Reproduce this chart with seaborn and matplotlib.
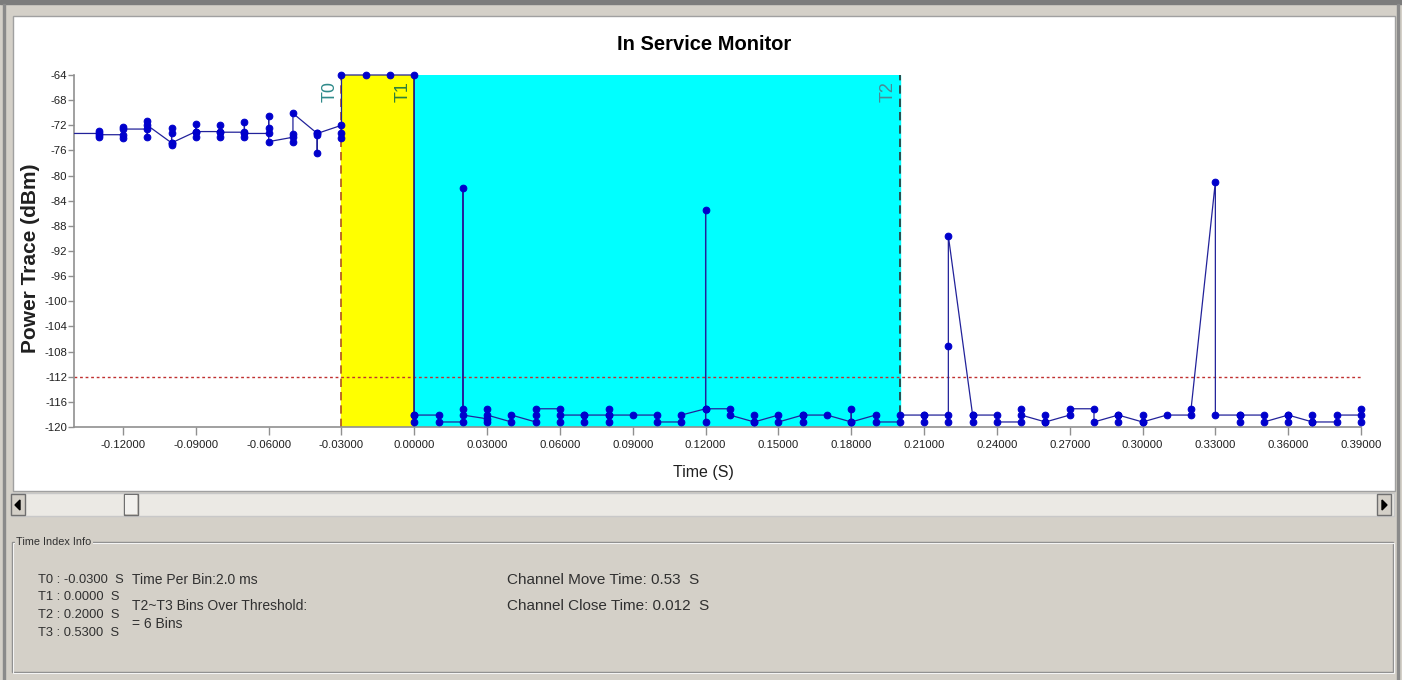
import pandas as pd
import matplotlib
matplotlib.use("Agg")
import matplotlib.pyplot as plt
from matplotlib.patches import Rectangle, Polygon
import seaborn as sns

# DATA: every 10 ms bin holds a few samples, drawn in the order they were taken
bin_times = [-0.14, -0.13, -0.12, -0.11, -0.10, -0.09, -0.08, -0.07, -0.06, -0.05, -0.04,
             -0.03, -0.02, -0.01, 0.00, 0.01, 0.02, 0.03, 0.04, 0.05, 0.06, 0.07, 0.08,
             0.09, 0.10, 0.11, 0.12, 0.13, 0.14, 0.15, 0.16, 0.17, 0.18, 0.19, 0.20,
             0.21, 0.22, 0.23, 0.24, 0.25, 0.26, 0.27, 0.28, 0.29, 0.30, 0.31, 0.32,
             0.33, 0.34, 0.35, 0.36, 0.37, 0.38, 0.39]
bin_samples = [
    [-73.3],
    [-73.3, -72.9, -73.9, -73.5],
    [-73.5, -74.0, -72.3, -72.6],
    [-72.6, -73.9, -71.3, -72.0],
    [-74.8, -72.5, -73.3, -75.1, -74.8],
    [-73.0, -71.8, -73.8, -73.0],
    [-73.0, -72.0, -73.8, -73.1],
    [-73.1, -71.4, -73.8, -73.3],
    [-73.3, -70.5, -72.5, -74.6],
    [-73.9, -74.6, -73.4, -70.1],
    [-73.3, -76.4, -73.6, -73.3],
    [-72.0, -73.2, -74.0, -64.0],
    [-64.0],
    [-64.0],
    [-64.0, -118.1, -119.2, -118.1],
    [-118.1, -119.2],
    [-119.2, -81.9, -117.1, -118.1],
    [-118.7, -117.1, -119.2, -118.1],
    [-119.2, -118.1],
    [-119.2, -118.1, -117.1],
    [-117.1, -119.2, -118.1],
    [-118.1, -119.2, -118.1],
    [-118.1, -117.1, -119.2, -118.1],
    [-118.1],
    [-118.1, -119.2],
    [-119.2, -118.1],
    [-117.1, -119.2, -85.5, -117.1],
    [-117.1, -118.1],
    [-119.2, -118.1, -119.2],
    [-118.1, -119.2],
    [-118.1, -119.2, -118.1],
    [-118.1],
    [-119.2, -117.1, -119.2],
    [-118.1, -119.2],
    [-119.2, -118.1],
    [-118.1, -119.2, -118.1],
    [-118.1, -119.2, -107.1, -89.6],
    [-118.1, -119.2, -118.1],
    [-118.1, -119.2],
    [-119.2, -117.1, -118.1],
    [-119.2, -118.1, -119.2],
    [-118.1, -117.1],
    [-117.1, -119.2],
    [-118.1, -119.2, -118.1],
    [-119.2, -118.1, -119.2],
    [-118.1],
    [-118.1, -117.1],
    [-81.0, -118.1],
    [-118.1, -119.2, -118.1],
    [-118.1, -119.2],
    [-118.1, -119.2, -118.1],
    [-119.2, -118.1, -119.2],
    [-119.2, -118.1],
    [-118.1, -117.1, -119.2],
]

marker_names = ["T0", "T1", "T2"]
marker_times = [-0.03, 0.00, 0.20]
threshold = -112
y_ticks = list(range(-64, -121, -4))
x_ticks = [-0.12, -0.09, -0.06, -0.03, 0.00, 0.03, 0.06, 0.09, 0.12, 0.15, 0.18,
           0.21, 0.24, 0.27, 0.30, 0.33, 0.36, 0.39]

info_times = ["T0 : -0.0300  S", "T1 : 0.0000  S", "T2 : 0.2000  S", "T3 : 0.5300  S"]
info_mid = ["Time Per Bin:2.0 ms", "T2~T3 Bins Over Threshold:", "= 6 Bins"]
info_right = ["Channel Move Time: 0.53  S", "Channel Close Time: 0.012  S"]

rows = []
for t, samples in zip(bin_times, bin_samples):
    for p in samples:
        rows.append((t, p))
df = pd.DataFrame(rows, columns=["time", "power"])

sns.set_style("white")
plt.rcParams["font.family"] = ["Liberation Sans", "DejaVu Sans"]

W, H = 1402, 680
fig = plt.figure(figsize=(W / 100, H / 100), dpi=100, facecolor="#d4d0c8")

# window chrome drawn in pixel coordinates
bg = fig.add_axes([0, 0, 1, 1], zorder=0)
bg.set_xlim(0, W)
bg.set_ylim(H, 0)
bg.axis("off")
bg.add_patch(Rectangle((0, 0), W, 4, color="#7c7c7c"))
bg.add_patch(Rectangle((3, 4), 1.5, H, color="#8a8a8a"))
bg.add_patch(Rectangle((1397, 4), 1.5, H, color="#8a8a8a"))
bg.add_patch(Rectangle((13, 16), 1382, 475, facecolor="white", edgecolor="#a0a0a0", lw=1))
# scrollbar
bg.add_patch(Rectangle((11, 493), 1383, 23, facecolor="#ebe9e4", edgecolor="#c8c8c8", lw=1))
for bx in [11, 124, 1377]:
    bg.add_patch(Rectangle((bx, 494), 14, 21, facecolor="#d4d0c8", edgecolor="#6f6f6f", lw=1))
bg.add_patch(Rectangle((125, 495), 12, 19, facecolor="#f2f1ee", edgecolor="none"))
bg.add_patch(Polygon([(20, 500), (20, 510), (15, 505)], color="black"))
bg.add_patch(Polygon([(1382, 500), (1382, 510), (1387, 505)], color="black"))
# group box
bg.add_patch(Rectangle((12, 542), 1381, 130, facecolor="none", edgecolor="#8c8c8c", lw=1))
bg.add_patch(Rectangle((13, 543), 1381, 130, facecolor="none", edgecolor="#f4f4f4", lw=0.8))
bg.text(16, 542, "Time Index Info", fontsize=7.8, va="center", ha="left",
        color="#303030", bbox=dict(facecolor="#d4d0c8", edgecolor="none", pad=1))
for i, s in enumerate(info_times):
    bg.text(38, 580 + i * 17.5, s, fontsize=9.3, va="center", color="#303030")
for s, y in zip(info_mid, [580, 606, 624]):
    bg.text(132, y, s, fontsize=10, va="center", color="#303030")
for s, y in zip(info_right, [580, 606]):
    bg.text(507, y, s, fontsize=11, va="center", color="#303030")

bg.text(704, 44, "In Service Monitor", fontsize=14.5, fontweight="bold",
        ha="center", va="center", color="black")

# PLOT AREA
ax = fig.add_axes([74 / W, 1 - 427 / H, 1287 / W, 352 / H], zorder=1)
ax.set_facecolor("white")
ax.set_xlim(-0.1402, 0.39)
ax.set_ylim(-120, -64)

ax.axvspan(marker_times[0], marker_times[1], color="#ffff00", zorder=0)
ax.axvspan(marker_times[1], marker_times[2], color="#00ffff", zorder=0)
ax.axhline(threshold, color="#c03030", lw=1, ls=(0, (2, 2)), zorder=1)
ax.axvline(marker_times[0], color="#b05020", lw=1.2, ls=(0, (5, 3)), zorder=1)
ax.axvline(marker_times[1], color="#404020", lw=1.2, zorder=1)
ax.axvline(marker_times[2], color="#303030", lw=1.2, ls=(0, (5, 3)), zorder=1)

label_colors = ["#2f8a8a", "#2f7f3a", "#4a8a96"]
for name, t, c in zip(marker_names, marker_times, label_colors):
    ax.text(t - 0.0012, -64.9, name, rotation=90, ha="right", va="top",
            fontsize=13, color=c)

sns.lineplot(data=df, x="time", y="power", sort=False, estimator=None, ax=ax,
             color="#22229a", lw=0.9, marker="o", markersize=4.8,
             markerfacecolor="#0000cc", markeredgecolor="#0000cc",
             markevery=list(range(1, len(df))), clip_on=False, legend=False, zorder=3)

ax.set_xticks(x_ticks)
ax.set_xticklabels([f"{v:.5f}" for v in x_ticks])
ax.set_yticks(y_ticks)
ax.set_yticklabels([str(v) for v in y_ticks])
ax.tick_params(axis="x", length=6, width=1, color="#909090", pad=3,
               labelsize=8.2, labelcolor="#202020", bottom=True)
ax.tick_params(axis="y", length=4, width=1, color="#909090", pad=1,
               labelsize=8.2, labelcolor="#202020", left=True)
for side in ["top", "right"]:
    ax.spines[side].set_visible(False)
for side in ["left", "bottom"]:
    ax.spines[side].set_color("#909090")
    ax.spines[side].set_linewidth(1.2)

ax.set_xlabel("Time (S)", fontsize=11.5, color="#202020")
ax.xaxis.set_label_coords(629 / 1287, -38 / 352)
ax.set_ylabel("Power Trace (dBm)", fontsize=15, fontweight="bold", color="#202020")
ax.yaxis.set_label_coords(-34 / 1287, 0.48)

fig.savefig("out.png", dpi=100, facecolor=fig.get_facecolor())
